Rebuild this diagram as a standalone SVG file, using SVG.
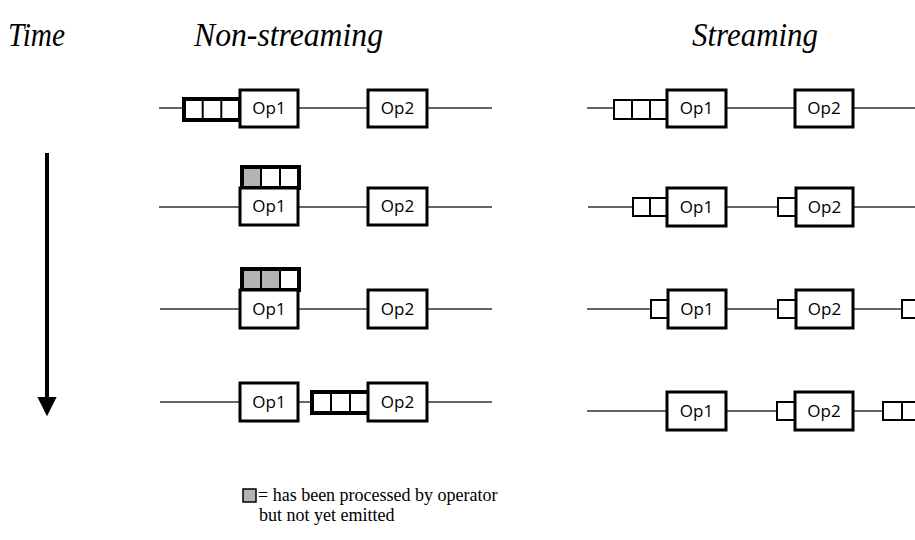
<svg xmlns="http://www.w3.org/2000/svg" width="915" height="540" viewBox="0 0 915 540">
  <style>
    .title { font-family: "Liberation Serif", "Times New Roman", serif; font-style: italic; font-size: 33px; fill: #000; }
    .legend { font-family: "Liberation Serif", "Times New Roman", serif; font-size: 18px; fill: #000; }
    .op rect { fill: #fff; stroke: #000; stroke-width: 3; }
    .op text { font-family: "Open Sans", "Noto Sans", sans-serif; font-size: 17px; fill: #000; text-anchor: middle; }
    .wire { stroke: #333; stroke-width: 1.5; fill: none; }
    .qbig { fill: #fff; stroke: #000; stroke-width: 4; }
    .qcell { fill: #fff; stroke: #000; stroke-width: 2; }
    .gray { fill: #b3b3b3; }
  </style>
  <defs>
    <marker id="arrowhead" viewBox="0 0 10 10" refX="0" refY="5" markerWidth="4.8" markerHeight="4.8" orient="auto" markerUnits="strokeWidth">
      <path d="M0,0 L10,5 L0,10 z" fill="#000"/>
    </marker>
  </defs>

  <!-- column headings -->
  <text class="title" x="8" y="46" textLength="57" lengthAdjust="spacingAndGlyphs">Time</text>
  <text class="title" x="194" y="46" textLength="189" lengthAdjust="spacingAndGlyphs">Non-streaming</text>
  <text class="title" x="692" y="46" textLength="126" lengthAdjust="spacingAndGlyphs">Streaming</text>

  <!-- time axis -->
  <line x1="47" y1="153" x2="47" y2="397" stroke="#000" stroke-width="4" marker-end="url(#arrowhead)"/>

  <!-- connectors (wires between operators) -->
  <g id="connectors">
    <line class="wire" x1="159" y1="108" x2="492" y2="108"/>
    <line class="wire" x1="159" y1="207" x2="492" y2="207"/>
    <line class="wire" x1="160" y1="309" x2="492" y2="309"/>
    <line class="wire" x1="160" y1="402" x2="492" y2="402"/>
    <line class="wire" x1="587" y1="108" x2="915" y2="108"/>
    <line class="wire" x1="588" y1="207" x2="915" y2="207"/>
    <line class="wire" x1="587" y1="309" x2="902" y2="309"/>
    <line class="wire" x1="587" y1="411" x2="883" y2="411"/>
  </g>

  <!-- non-streaming: row 1, input batch waiting in front of Op1 -->
  <g id="ns-queue-1">
    <rect class="qbig" x="184" y="99" width="56" height="21"/>
    <line x1="202.7" y1="99" x2="202.7" y2="120" stroke="#000" stroke-width="2"/>
    <line x1="221.3" y1="99" x2="221.3" y2="120" stroke="#000" stroke-width="2"/>
  </g>
  <g id="ns-op1-1" class="op"><rect x="240" y="90" width="58" height="37"/><text x="269" y="114">Op1</text></g>
  <g id="ns-op2-1" class="op"><rect x="368" y="90" width="59" height="37"/><text x="397.5" y="114">Op2</text></g>

  <!-- non-streaming: row 2, first item processed -->
  <g id="ns-queue-2">
    <rect class="qbig" x="242" y="167" width="57" height="21"/>
    <rect class="gray" x="244" y="169" width="17" height="17"/>
    <line x1="261" y1="167" x2="261" y2="188" stroke="#000" stroke-width="2"/>
    <line x1="280" y1="167" x2="280" y2="188" stroke="#000" stroke-width="2"/>
  </g>
  <g id="ns-op1-2" class="op"><rect x="240" y="188" width="58" height="37"/><text x="269" y="212">Op1</text></g>
  <g id="ns-op2-2" class="op"><rect x="368" y="188" width="59" height="37"/><text x="397.5" y="212">Op2</text></g>

  <!-- non-streaming: row 3, two items processed -->
  <g id="ns-queue-3">
    <rect class="qbig" x="242" y="269" width="57" height="21"/>
    <rect class="gray" x="244" y="271" width="36" height="17"/>
    <line x1="261" y1="269" x2="261" y2="290" stroke="#000" stroke-width="2"/>
    <line x1="280" y1="269" x2="280" y2="290" stroke="#000" stroke-width="2"/>
  </g>
  <g id="ns-op1-3" class="op"><rect x="240" y="290" width="58" height="38"/><text x="269" y="315">Op1</text></g>
  <g id="ns-op2-3" class="op"><rect x="368" y="290" width="59" height="38"/><text x="397.5" y="315">Op2</text></g>

  <!-- non-streaming: row 4, whole batch emitted to Op2 -->
  <g id="ns-op1-4" class="op"><rect x="240" y="383" width="58" height="38"/><text x="269" y="408">Op1</text></g>
  <g id="ns-queue-4">
    <rect class="qbig" x="312" y="392" width="57" height="21"/>
    <line x1="331" y1="392" x2="331" y2="413" stroke="#000" stroke-width="2"/>
    <line x1="350" y1="392" x2="350" y2="413" stroke="#000" stroke-width="2"/>
  </g>
  <g id="ns-op2-4" class="op"><rect x="368" y="383" width="59" height="38"/><text x="397.5" y="408">Op2</text></g>

  <!-- streaming: row 1 -->
  <g id="s-queue-1">
    <rect class="qcell" x="614" y="100" width="18" height="19"/>
    <rect class="qcell" x="632" y="100" width="18" height="19"/>
    <rect class="qcell" x="650" y="100" width="17" height="19"/>
  </g>
  <g id="s-op1-1" class="op"><rect x="667" y="90" width="59" height="37"/><text x="696.5" y="114">Op1</text></g>
  <g id="s-op2-1" class="op"><rect x="795" y="90" width="58" height="37"/><text x="824" y="114">Op2</text></g>

  <!-- streaming: row 2 -->
  <g id="s-queue-2">
    <rect class="qcell" x="633" y="198" width="17" height="18"/>
    <rect class="qcell" x="650" y="198" width="17" height="18"/>
  </g>
  <g id="s-op1-2" class="op"><rect x="667" y="188" width="59" height="38"/><text x="696.5" y="213">Op1</text></g>
  <g id="s-queue-2b"><rect class="qcell" x="778" y="198" width="18" height="18"/></g>
  <g id="s-op2-2" class="op"><rect x="796" y="188" width="57" height="38"/><text x="824.5" y="213">Op2</text></g>

  <!-- streaming: row 3 -->
  <g id="s-queue-3"><rect class="qcell" x="651" y="300" width="17" height="18"/></g>
  <g id="s-op1-3" class="op"><rect x="668" y="290" width="58" height="38"/><text x="697" y="315">Op1</text></g>
  <g id="s-queue-3b"><rect class="qcell" x="778" y="300" width="18" height="18"/></g>
  <g id="s-op2-3" class="op"><rect x="796" y="290" width="57" height="38"/><text x="824.5" y="315">Op2</text></g>
  <g id="s-out-3"><rect class="qcell" x="902" y="300" width="18" height="18"/></g>

  <!-- streaming: row 4 -->
  <g id="s-op1-4" class="op"><rect x="667" y="392" width="59" height="38"/><text x="696.5" y="417">Op1</text></g>
  <g id="s-queue-4b"><rect class="qcell" x="777" y="402" width="18" height="18"/></g>
  <g id="s-op2-4" class="op"><rect x="795" y="392" width="58" height="38"/><text x="824" y="417">Op2</text></g>
  <g id="s-out-4">
    <rect class="qcell" x="883" y="402" width="19" height="18"/>
    <rect class="qcell" x="902" y="402" width="19" height="18"/>
  </g>

  <!-- legend -->
  <g id="legend">
    <rect x="243" y="489" width="13" height="13" fill="#b3b3b3" stroke="#000" stroke-width="1.5"/>
    <text class="legend" x="258" y="501">= has been processed by operator</text>
    <text class="legend" x="259" y="521">but not yet emitted</text>
  </g>
</svg>
